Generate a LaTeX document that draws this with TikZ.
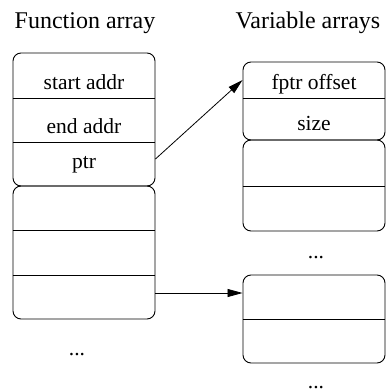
\documentclass[tikz,border=0pt]{standalone}
\usepackage{fontspec}
\setmainfont{Liberation Serif}
\usetikzlibrary{arrows.meta}
\tikzset{
  x=1pt, y=1pt,
  cellbox/.style={draw, line width=0.9pt, rounded corners=8pt, inner sep=0pt, minimum width=142pt},
  sep/.style={line width=0.9pt},
  arr/.style={line width=0.8pt, -{Triangle[length=15pt,width=8pt]}},
  title/.style={font=\fontsize{24}{28}\selectfont, anchor=base, inner sep=0pt},
  cell/.style={font=\fontsize{21.5}{25}\selectfont, anchor=base, inner sep=0pt},
  dots/.style={font=\fontsize{21.5}{25}\selectfont, anchor=base, inner sep=0pt}
}
\begin{document}
\begin{tikzpicture}
\useasboundingbox (0,0) rectangle (386,-391);
% titles
\node[title] (tf) at (85,-28) {Function array};
\node[title] (tv) at (308,-28) {Variable arrays};
% function array boxes
\node[cellbox, minimum height=133pt] (fa1) at (84,-119.5) {};
\node[cellbox, minimum height=133pt] (fa2) at (84,-252.5) {};
\draw[sep] (fa1.west |- 0,-98) -- (fa1.east |- 0,-98);
\draw[sep] (fa1.west |- 0,-142) -- (fa1.east |- 0,-142);
\draw[sep] (fa2.west |- 0,-230) -- (fa2.east |- 0,-230);
\draw[sep] (fa2.west |- 0,-275) -- (fa2.east |- 0,-275);
\node[cell] (sa) at (84,-89) {start addr};
\node[cell] (ea) at (84,-133) {end addr};
\node[cell] (pt) at (84,-168) {ptr};
\node[dots] (d1) at (77,-355) {...};
% variable array boxes
\node[cellbox, minimum height=78pt] (va1) at (314,-101) {};
\node[cellbox, minimum height=91pt] (va2) at (314,-185.5) {};
\node[cellbox, minimum height=88pt] (va3) at (314,-319) {};
\draw[sep] (va1.west |- 0,-98) -- (va1.east |- 0,-98);
\draw[sep] (va2.west |- 0,-186) -- (va2.east |- 0,-186);
\draw[sep] (va3.west |- 0,-319) -- (va3.east |- 0,-319);
\node[cell] (fo) at (314,-89) {fptr offset};
\node[cell] (sz) at (314,-130) {size};
\node[dots] (d2) at (316,-258) {...};
\node[dots] (d3) at (316,-388) {...};
% connectors
\draw[arr] (fa1.east |- 0,-159) -- (va1.west |- 0,-80);
\draw[arr] (fa2.east |- 0,-293) -- (va3.west |- 0,-293);
\end{tikzpicture}
\end{document}
